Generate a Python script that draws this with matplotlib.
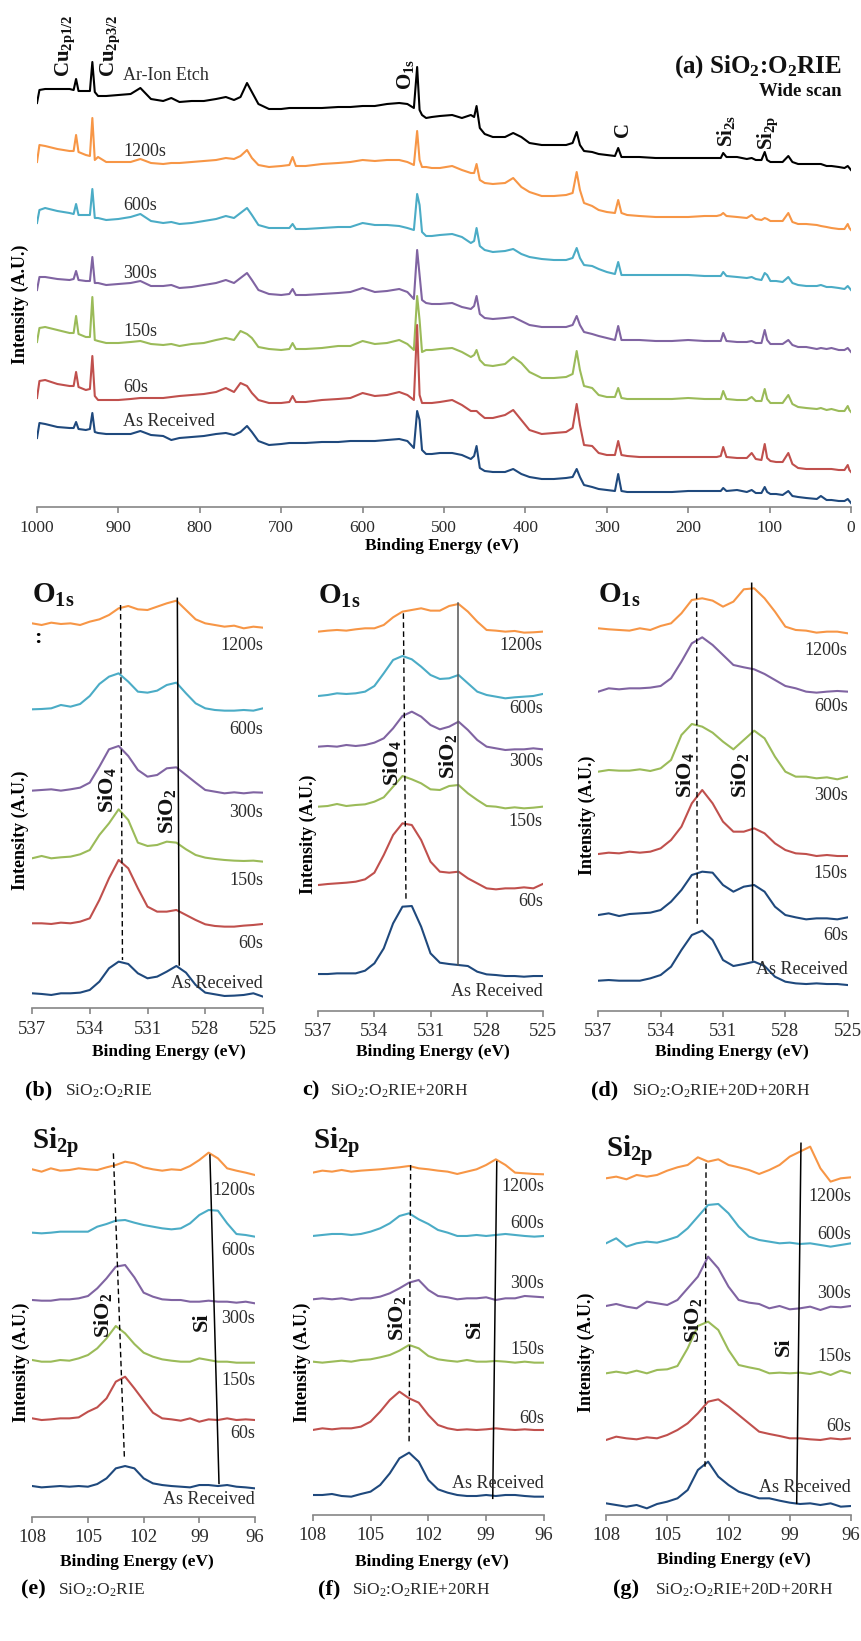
import matplotlib
matplotlib.use("Agg")
import matplotlib.pyplot as plt

plt.rcParams["font.family"] = ["Liberation Serif", "DejaVu Serif"]
plt.rcParams["mathtext.fontset"] = "custom"
plt.rcParams["mathtext.rm"] = "Liberation Serif"
plt.rcParams["mathtext.bf"] = "Liberation Serif:bold"
plt.rcParams["mathtext.it"] = "Liberation Serif:italic"

ORANGE, CYAN, PURPLE = "#F79646", "#4BACC6", "#8064A2"
GREEN, RED, NAVY, BLACK = "#9BBB59", "#C0504D", "#1F497D", "#000000"
GREY = "#868686"
TXT = "#2b2b2b"

# ── (a) wide scan ──────────────────────────────────────────────
wide_energy = [1000, 997, 990, 975, 960, 955, 952, 949, 940, 935,
               932, 929, 925, 915, 900, 885, 873, 860, 845, 835,
               825, 810, 795, 780, 768, 758, 750, 742, 736, 728,
               715, 700, 690, 686, 682, 670, 650, 630, 615, 600,
               585, 570, 555, 545, 537, 533, 530, 527, 522, 515,
               505, 490, 478, 467, 463, 460, 456, 450, 440, 425,
               415, 405, 395, 380, 365, 350, 342, 337, 333, 328,
               318, 310, 300, 290, 286, 282, 275, 260, 240, 220,
               200, 180, 165, 160, 157, 153, 140, 128, 122, 117,
               110, 106, 103, 99, 92, 84, 77, 72, 65, 55,
               42, 37, 30, 24, 15, 8, 4, 2, 0]
wide_ar_etch = [404, 417, 418, 418, 418, 417, 428, 416, 416, 416,
                445, 415, 411, 411, 412, 413, 419, 408, 406, 409,
                405, 406, 406, 408, 410, 407, 410, 424, 415, 403,
                398, 398, 399, 399, 399, 399, 399, 400, 400, 401,
                401, 403, 404, 403, 399, 440, 397, 392, 389, 390,
                391, 392, 389, 392, 390, 401, 379, 373, 370, 370,
                374, 370, 364, 362, 362, 362, 364, 375, 362, 356,
                355, 353, 352, 351, 359, 350, 350, 350, 349, 349,
                349, 349, 349, 349, 354, 350, 350, 348, 349, 347,
                347, 355, 347, 345, 345, 345, 351, 345, 343, 343,
                343, 343, 341, 341, 340, 339, 341, 339, 337]
wide_1200 = [345, 362, 361, 358, 356, 356, 372, 355, 352, 351,
             389, 347, 350, 345, 345, 345, 348, 344, 343, 344,
             344, 345, 346, 347, 349, 348, 351, 357, 349, 342,
             340, 341, 342, 350, 341, 341, 343, 344, 345, 347,
             346, 347, 347, 345, 342, 376, 347, 340, 340, 339,
             339, 341, 337, 334, 334, 343, 327, 324, 323, 324,
             329, 320, 315, 311, 311, 312, 314, 335, 317, 304,
             301, 297, 295, 294, 307, 294, 292, 291, 290, 290,
             290, 291, 291, 292, 294, 291, 290, 289, 292, 288,
             287, 289, 288, 286, 286, 286, 294, 285, 283, 283,
             282, 281, 280, 279, 278, 278, 283, 279, 277]
wide_600 = [284, 297, 299, 296, 294, 293, 303, 292, 292, 292,
            318, 289, 289, 287, 288, 290, 293, 286, 284, 285,
            283, 284, 286, 288, 291, 289, 294, 299, 292, 282,
            279, 279, 279, 283, 278, 278, 279, 280, 280, 284,
            282, 282, 281, 279, 277, 313, 302, 275, 271, 271,
            272, 273, 270, 264, 266, 279, 261, 257, 255, 256,
            258, 253, 250, 248, 247, 247, 249, 259, 249, 242,
            241, 238, 235, 233, 245, 232, 232, 232, 232, 232,
            232, 231, 231, 231, 235, 231, 230, 229, 230, 228,
            227, 234, 232, 226, 226, 225, 230, 224, 222, 221,
            221, 222, 220, 220, 219, 218, 221, 219, 217]
wide_300 = [217, 230, 230, 228, 227, 228, 236, 227, 226, 226,
            250, 224, 224, 222, 223, 224, 226, 221, 221, 222,
            219, 220, 222, 224, 227, 224, 229, 234, 227, 217,
            213, 212, 213, 218, 212, 212, 213, 214, 215, 219,
            215, 216, 218, 215, 208, 257, 232, 207, 204, 203,
            203, 204, 200, 198, 201, 211, 193, 189, 188, 189,
            190, 186, 182, 180, 180, 180, 182, 191, 182, 175,
            173, 171, 169, 167, 181, 167, 167, 167, 166, 166,
            167, 166, 166, 166, 174, 166, 165, 165, 166, 164,
            164, 177, 167, 163, 163, 163, 167, 162, 160, 160,
            158, 159, 158, 159, 157, 157, 159, 157, 155]
wide_150 = [165, 179, 180, 177, 174, 174, 191, 173, 170, 170,
            210, 167, 166, 164, 164, 165, 166, 163, 162, 163,
            161, 163, 164, 167, 169, 167, 176, 173, 169, 160,
            158, 157, 158, 164, 158, 158, 159, 161, 161, 166,
            163, 164, 167, 163, 157, 211, 187, 155, 157, 157,
            158, 159, 155, 150, 152, 157, 147, 142, 141, 143,
            150, 144, 135, 129, 129, 130, 133, 156, 137, 121,
            119, 112, 110, 110, 119, 109, 108, 108, 108, 108,
            109, 108, 108, 108, 116, 108, 107, 107, 110, 106,
            106, 118, 108, 104, 104, 104, 112, 103, 100, 99,
            98, 99, 97, 98, 96, 96, 101, 97, 95]
wide_60 = [109, 126, 127, 123, 121, 121, 135, 120, 117, 118,
           151, 111, 107, 107, 107, 108, 109, 109, 109, 110,
           111, 112, 113, 115, 119, 115, 124, 121, 114, 107,
           104, 104, 105, 111, 105, 105, 107, 108, 109, 114,
           111, 112, 115, 112, 107, 182, 112, 104, 104, 104,
           105, 107, 102, 96, 96, 96, 93, 89, 89, 92,
           97, 87, 77, 73, 74, 75, 79, 103, 82, 62,
           61, 54, 52, 52, 66, 52, 51, 50, 50, 50,
           50, 50, 50, 51, 60, 50, 49, 49, 54, 48,
           47, 63, 49, 46, 45, 45, 54, 43, 39, 38,
           38, 38, 38, 38, 37, 37, 42, 37, 35]
wide_as_rec = [69, 84, 83, 80, 79, 79, 85, 78, 77, 78,
               94, 75, 74, 73, 73, 73, 76, 72, 71, 67,
               69, 70, 71, 73, 74, 72, 75, 81, 75, 66,
               62, 63, 64, 64, 64, 64, 65, 65, 66, 66,
               66, 67, 68, 66, 59, 96, 87, 57, 53, 53,
               54, 54, 52, 48, 51, 61, 39, 36, 35, 35,
               38, 33, 30, 28, 28, 29, 30, 38, 30, 22,
               20, 18, 17, 16, 33, 16, 15, 15, 15, 15,
               16, 16, 16, 16, 19, 16, 17, 15, 17, 14,
               14, 20, 15, 13, 13, 12, 16, 11, 10, 9,
               8, 11, 7, 7, 6, 6, 8, 6, 4]
wide_tags = ["Ar-Ion Etch", "1200s", "600s", "300s", "150s", "60s", "As Received"]
wide_tag_y = [432, 355, 302, 234, 175, 119, 85]

# ── O1s narrow scans (b, c, d) ─────────────────────────────────
o1s_energy = [537.0, 536.5, 536.0, 535.5, 535.0, 534.5, 534.0, 533.5, 533.0,
              532.5, 532.0, 531.5, 531.0, 530.5, 530.0, 529.5, 529.0, 528.5,
              528.0, 527.5, 527.0, 526.5, 526.0, 525.5, 525.0]
b_1200 = [1155, 1150, 1157, 1153, 1155, 1150, 1160, 1167, 1180, 1200, 1207, 1197, 1195, 1205, 1215, 1223, 1195, 1167, 1155, 1150, 1145, 1148, 1140, 1145, 1142]
b_600 = [897, 898, 900, 910, 905, 913, 937, 973, 995, 1005, 980, 950, 947, 953, 970, 977, 945, 915, 900, 895, 893, 893, 895, 893, 900]
b_300 = [653, 655, 657, 653, 657, 662, 677, 725, 777, 787, 757, 715, 695, 700, 720, 723, 700, 677, 655, 650, 645, 648, 645, 648, 647]
b_150 = [450, 457, 450, 453, 455, 462, 475, 520, 555, 597, 565, 497, 487, 490, 500, 497, 477, 460, 452, 448, 445, 443, 442, 443, 440]
b_60 = [255, 255, 253, 257, 255, 260, 270, 325, 390, 445, 420, 360, 305, 290, 290, 295, 280, 265, 252, 247, 245, 245, 248, 250, 253]
b_as_rec = [45, 43, 40, 45, 45, 47, 55, 80, 120, 140, 133, 105, 90, 95, 110, 127, 107, 70, 47, 42, 37, 38, 40, 45, 35]

c_1200 = [1137, 1140, 1142, 1140, 1144, 1147, 1147, 1157, 1180, 1197, 1202, 1207, 1200, 1200, 1214, 1220, 1197, 1167, 1142, 1140, 1137, 1139, 1134, 1135, 1137]
c_600 = [944, 947, 952, 950, 952, 957, 974, 1012, 1052, 1064, 1054, 1032, 1007, 995, 997, 1007, 982, 957, 947, 942, 937, 940, 942, 944, 950]
c_300 = [792, 794, 792, 797, 794, 797, 804, 817, 847, 884, 897, 882, 857, 844, 852, 867, 842, 812, 792, 787, 782, 784, 784, 787, 784]
c_150 = [612, 614, 620, 614, 617, 619, 627, 640, 672, 704, 694, 682, 664, 662, 674, 677, 652, 632, 614, 612, 607, 610, 607, 609, 612]
c_60 = [377, 380, 382, 384, 387, 394, 414, 467, 527, 562, 557, 512, 447, 417, 414, 417, 397, 382, 367, 364, 367, 367, 370, 367, 380]
c_as_rec = [110, 110, 112, 112, 112, 120, 142, 187, 262, 312, 314, 252, 172, 144, 140, 137, 134, 117, 109, 107, 104, 104, 102, 104, 104]

d_1200 = [1147, 1144, 1142, 1140, 1147, 1142, 1154, 1162, 1192, 1232, 1237, 1230, 1212, 1227, 1264, 1267, 1237, 1197, 1152, 1142, 1140, 1134, 1137, 1137, 1132]
d_600 = [957, 967, 964, 967, 967, 969, 974, 997, 1047, 1102, 1120, 1097, 1067, 1037, 1030, 1024, 1010, 992, 974, 967, 957, 954, 957, 959, 957]
d_300 = [717, 722, 720, 720, 724, 719, 727, 752, 827, 860, 852, 834, 807, 784, 812, 840, 817, 762, 717, 702, 702, 697, 700, 694, 702]
d_150 = [470, 474, 472, 477, 474, 477, 487, 512, 552, 622, 662, 622, 567, 537, 537, 547, 532, 502, 482, 472, 470, 464, 467, 464, 464]
d_60 = [287, 292, 284, 290, 292, 294, 302, 327, 362, 407, 417, 414, 377, 357, 372, 377, 357, 312, 287, 280, 274, 277, 277, 274, 280]
d_as_rec = [90, 92, 90, 90, 90, 97, 107, 132, 182, 227, 240, 212, 152, 134, 140, 147, 134, 102, 87, 82, 80, 82, 80, 80, 77]

# ── Si2p narrow scans (e, f, g) ────────────────────────────────
si2p_energy = [108.0, 107.5, 107.0, 106.5, 106.0, 105.5, 105.0, 104.5, 104.0,
               103.5, 103.0, 102.5, 102.0, 101.5, 101.0, 100.5, 100.0, 99.5,
               99.0, 98.5, 98.0, 97.5, 97.0, 96.5, 96.0]
e_1200 = [1042, 1035, 1045, 1038, 1040, 1045, 1042, 1040, 1048, 1055, 1065, 1060, 1048, 1042, 1038, 1042, 1040, 1052, 1070, 1092, 1075, 1045, 1038, 1032, 1025]
e_600 = [852, 850, 852, 855, 855, 855, 855, 870, 878, 888, 890, 882, 875, 870, 865, 862, 865, 880, 905, 920, 918, 880, 848, 845, 840]
e_300 = [650, 648, 648, 652, 652, 655, 662, 685, 715, 750, 755, 718, 672, 660, 652, 650, 650, 645, 645, 648, 645, 645, 642, 645, 640]
e_150 = [470, 465, 465, 470, 468, 475, 485, 505, 535, 572, 550, 518, 492, 480, 472, 468, 465, 465, 475, 470, 465, 465, 462, 462, 462]
e_60 = [295, 290, 292, 295, 295, 298, 315, 328, 355, 405, 420, 385, 348, 312, 295, 292, 288, 295, 285, 292, 290, 295, 290, 292, 290]
e_as_rec = [92, 88, 90, 92, 90, 92, 90, 98, 115, 145, 152, 145, 115, 100, 95, 92, 90, 88, 95, 95, 92, 95, 90, 88, 85]

f_1200 = [1027, 1033, 1030, 1035, 1030, 1033, 1035, 1037, 1040, 1043, 1047, 1040, 1037, 1033, 1030, 1023, 1030, 1037, 1050, 1067, 1050, 1027, 1025, 1023, 1022]
f_600 = [837, 840, 843, 843, 840, 843, 850, 860, 875, 897, 905, 887, 873, 855, 847, 837, 837, 840, 837, 840, 843, 840, 837, 835, 837]
f_300 = [647, 650, 647, 650, 645, 650, 650, 655, 665, 680, 697, 705, 675, 657, 653, 647, 650, 650, 653, 645, 650, 650, 657, 655, 653]
f_150 = [460, 457, 460, 463, 460, 465, 467, 473, 480, 493, 510, 500, 477, 467, 463, 460, 465, 460, 460, 462, 460, 457, 460, 457, 457]
f_60 = [255, 260, 257, 260, 260, 265, 280, 310, 345, 370, 350, 337, 300, 270, 260, 255, 257, 255, 257, 260, 257, 255, 257, 255, 255]
f_as_rec = [60, 60, 63, 57, 55, 63, 70, 90, 125, 170, 187, 160, 105, 77, 67, 60, 57, 57, 60, 57, 60, 60, 57, 55, 55]

g_1200 = [1010, 1015, 1007, 1020, 1015, 1020, 1033, 1043, 1050, 1073, 1060, 1067, 1050, 1043, 1035, 1023, 1035, 1050, 1075, 1090, 1105, 1040, 1000, 1010, 1013]
g_600 = [815, 830, 805, 815, 820, 817, 825, 835, 860, 895, 930, 933, 905, 865, 835, 825, 820, 815, 817, 813, 815, 810, 805, 810, 815]
g_300 = [627, 633, 625, 620, 640, 635, 630, 645, 680, 715, 775, 740, 685, 645, 637, 633, 620, 627, 617, 620, 625, 615, 625, 623, 627]
g_150 = [425, 430, 425, 433, 425, 435, 437, 447, 500, 567, 580, 555, 495, 450, 443, 437, 425, 427, 425, 427, 423, 430, 420, 433, 425]
g_60 = [225, 235, 230, 227, 233, 230, 240, 255, 275, 305, 340, 347, 325, 300, 275, 250, 243, 237, 230, 230, 227, 225, 230, 227, 230]
g_as_rec = [35, 30, 25, 30, 20, 33, 40, 50, 75, 135, 160, 115, 90, 70, 60, 50, 50, 43, 37, 33, 35, 30, 35, 25, 27]

tags = ["1200s", "600s", "300s", "150s", "60s", "As Received"]
b_tag_y = [1087, 837, 588, 383, 195, 73]
c_tag_y = [1094, 907, 747, 567, 327, 59]
d_tag_y = [1080, 912, 647, 412, 227, 124]
e_tag_y = [980, 800, 595, 410, 250, 52]
f_tag_y = [985, 875, 693, 495, 290, 95]
g_tag_y = [955, 840, 665, 475, 265, 83]

# guide lines: (E_top, y_top, E_bottom, y_bottom)
b_lines = [(532.40, 1210, 532.30, 145), (529.45, 1230, 529.35, 130)]
c_lines = [(532.45, 1192, 532.31, 327), (529.55, 1222, 529.55, 137)]
d_lines = [(532.27, 1252, 532.24, 252), (529.62, 1282, 529.57, 152)]
e_lines = [(103.63, 1090, 103.04, 180), (98.43, 1085, 97.94, 100)]
f_lines = [(102.92, 1050, 103.00, 215), (98.45, 1060, 98.66, 50)]
g_lines = [(103.10, 1055, 103.15, 140), (98.45, 1115, 98.66, 35)]

SIO4 = r"SiO$_{\mathbf{4}}$"
SIO2 = r"SiO$_{\mathbf{2}}$"
b_peaks = [(533.10, 655, SIO4), (530.00, 590, SIO2)]
c_peaks = [(533.08, 742, SIO4), (530.05, 762, SIO2)]
d_peaks = [(532.83, 707, SIO4), (530.18, 707, SIO2)]
e_peaks = [(104.17, 605, SIO2), (98.87, 585, "Si")]
f_peaks = [(103.64, 590, SIO2), (99.58, 560, "Si")]
g_peaks = [(103.72, 585, SIO2), (99.31, 505, "Si")]

# ── figure ─────────────────────────────────────────────────────
W, H = 861, 1641
fig = plt.figure(figsize=(W / 100, H / 100), dpi=100)


def box(left, right, bottom, top):
    return [left / W, 1 - bottom / H, (right - left) / W, (bottom - top) / H]


def ftext(px, py, s, **kw):
    fig.text(px / W, 1 - py / H, s, **kw)


def style_axis(ax, labelsize):
    for side in ("left", "top", "right"):
        ax.spines[side].set_visible(False)
    ax.spines["bottom"].set_color(GREY)
    ax.spines["bottom"].set_linewidth(1.2)
    ax.set_yticks([])
    ax.tick_params(axis="x", direction="out", length=4, width=1.2, color=GREY,
                   labelsize=labelsize, labelcolor=TXT, pad=5)


# (a)
ax = fig.add_axes(box(37, 851, 507, 30))
wide_series = [wide_ar_etch, wide_1200, wide_600, wide_300, wide_150, wide_60, wide_as_rec]
wide_colors = [BLACK, ORANGE, CYAN, PURPLE, GREEN, RED, NAVY]
for vals, col, tag, ty in zip(wide_series, wide_colors, wide_tags, wide_tag_y):
    ax.plot(wide_energy, vals, color=col, lw=1.5, solid_joinstyle="round")
    ax.text(894, ty, tag, fontsize=13, color=TXT, ha="left", va="center")
ax.set_xlim(1000, 0)
ax.set_ylim(0, 477)
ax.set_xticks(range(1000, -1, -100))
style_axis(ax, 12.5)
for x, y, s in [(965.6, 430, r"Cu$_{\mathbf{2p1/2}}$"), (910.3, 430, r"Cu$_{\mathbf{2p3/2}}$"),
                (546.7, 417, r"O$_{\mathbf{1s}}$"), (280, 370, "C"),
                (153.6, 360, r"Si$_{\mathbf{2s}}$"), (102, 357, r"Si$_{\mathbf{2p}}$")]:
    ax.text(x, y, s, rotation=90, ha="center", va="bottom", fontsize=15,
            fontweight="bold", color="#111111")
ax.text(11, 440, r"(a) SiO$_{\mathbf{2}}$:O$_{\mathbf{2}}$RIE", fontsize=18,
        fontweight="bold", ha="right", va="center", color="#111111")
ax.text(11, 416, "Wide scan", fontsize=13.5, fontweight="bold", ha="right",
        va="center", color="#111111")
ftext(442, 546, "Binding Energy (eV)", fontsize=12.5, fontweight="bold", ha="center", va="center")
ftext(20, 304, "Intensity (A.U.)", fontsize=13, fontweight="bold", rotation=90,
      ha="center", va="center")


def narrow(rect, ymax, energy, series, colors, tag_y, lines, peaks, xlim, xticks,
           title, title_y, solid_col="black"):
    ax = fig.add_axes(rect)
    for vals, col, tag, ty in zip(series, colors, tags, tag_y):
        ax.plot(energy, vals, color=col, lw=1.5, solid_joinstyle="round")
        ax.text(xlim[1], ty, tag, fontsize=13, color=TXT, ha="right", va="center")
    (x0, y0, x1, y1), (s0, t0, s1, t1) = lines
    ax.plot([x0, x1], [y0, y1], color="black", lw=1.0, ls=(0, (4, 2.5)))
    ax.plot([s0, s1], [t0, t1], color=solid_col, lw=1.1)
    for x, y, s in peaks:
        ax.text(x, y, s, rotation=90, ha="center", va="center", fontsize=16,
                fontweight="bold", color="#111111")
    ax.text(xlim[0], title_y, title, fontsize=21, fontweight="bold", ha="left",
            va="center", color="#111111")
    ax.set_xlim(*xlim)
    ax.set_ylim(0, ymax)
    ax.set_xticks(xticks)
    style_axis(ax, 13.5)
    return ax


O1S = r"O$_{\mathbf{1s}}$"
SI2P = r"Si$_{\mathbf{2p}}$"
o_ticks = [537, 534, 531, 528, 525]
s_ticks = [108, 105, 102, 99, 96]
six = [ORANGE, CYAN, PURPLE, GREEN, RED, NAVY]

axb = narrow(box(32, 263, 1008.3, 575), 1300, o1s_energy,
             [b_1200, b_600, b_300, b_150, b_60, b_as_rec], six, b_tag_y, b_lines,
             b_peaks, (537, 525), o_ticks, O1S, 1240)
axb.text(536.7, 1110, ":", fontsize=16, fontweight="bold", ha="center", va="center")
narrow(box(318.3, 542.7, 1010.7, 577.3), 1300, o1s_energy,
       [c_1200, c_600, c_300, c_150, c_60, c_as_rec], six, c_tag_y, c_lines,
       c_peaks, (537, 525), o_ticks, O1S, 1242, solid_col="#555555")
narrow(box(598.3, 847.7, 1010.7, 577.3), 1300, o1s_energy,
       [d_1200, d_600, d_300, d_150, d_60, d_as_rec],
       [ORANGE, PURPLE, GREEN, RED, NAVY, NAVY], d_tag_y, d_lines,
       d_peaks, (537, 525), o_ticks, O1S, 1245)

narrow(box(32.3, 255, 1516.7, 1100), 1250, si2p_energy,
       [e_1200, e_600, e_300, e_150, e_60, e_as_rec], six, e_tag_y, e_lines,
       e_peaks, (108, 96), s_ticks, SI2P, 1120)
narrow(box(312.7, 544, 1515, 1098.3), 1250, si2p_energy,
       [f_1200, f_600, f_300, f_150, f_60, f_as_rec], six, f_tag_y, f_lines,
       f_peaks, (108, 96), s_ticks, SI2P, 1115)
narrow(box(606, 851, 1515, 1098.3), 1250, si2p_energy,
       [g_1200, g_600, g_300, g_150, g_60, g_as_rec], six, g_tag_y, g_lines,
       g_peaks, (108, 96), s_ticks, SI2P, 1090)

for px, py in [(169, 1052), (433, 1052), (732, 1052), (137, 1562), (432, 1562), (734, 1560)]:
    ftext(px, py, "Binding Energy (eV)", fontsize=12.5, fontweight="bold", ha="center", va="center")
for px, py in [(20, 830), (308, 834), (587, 815), (21, 1362), (302, 1362), (586, 1352)]:
    ftext(px, py, "Intensity (A.U.)", fontsize=13, fontweight="bold", rotation=90,
          ha="center", va="center")

captions = [(25, 65, 1090, "(b)", r"SiO$_2$:O$_2$RIE"),
            (302, 330, 1090, "c)", r"SiO$_2$:O$_2$RIE+20RH"),
            (591, 632, 1090, "(d)", r"SiO$_2$:O$_2$RIE+20D+20RH"),
            (21, 58, 1589, "(e)", r"SiO$_2$:O$_2$RIE"),
            (318, 352, 1589, "(f)", r"SiO$_2$:O$_2$RIE+20RH"),
            (613, 655, 1589, "(g)", r"SiO$_2$:O$_2$RIE+20D+20RH")]
for x0, x1, py, letter, text in captions:
    ftext(x0, py, letter, fontsize=16, fontweight="bold", ha="left", va="center")
    ftext(x1, py + 1, text, fontsize=12.5, ha="left", va="center", color=TXT)

fig.savefig("out.png", dpi=100)
